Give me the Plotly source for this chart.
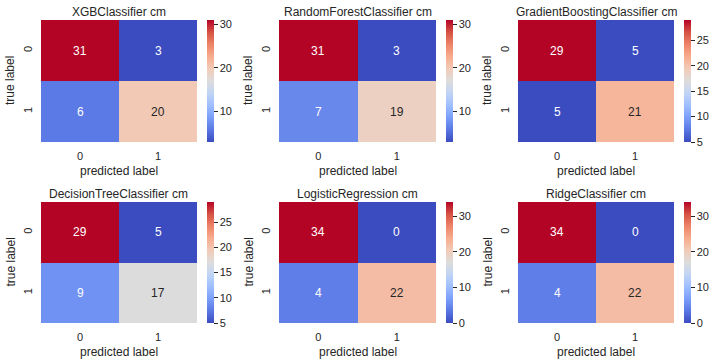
import plotly.graph_objects as go

# ---- data ----
models = ["XGBClassifier", "RandomForestClassifier", "GradientBoostingClassifier",
          "DecisionTreeClassifier", "LogisticRegression", "RidgeClassifier"]
cm_xgb = [[31, 3], [6, 20]]
cm_rf = [[31, 3], [7, 19]]
cm_gb = [[29, 5], [5, 21]]
cm_dt = [[29, 5], [9, 17]]
cm_lr = [[34, 0], [4, 22]]
cm_ridge = [[34, 0], [4, 22]]
matrices = [cm_xgb, cm_rf, cm_gb, cm_dt, cm_lr, cm_ridge]
class_labels = ["0", "1"]
cbar_dtick = [10, 10, 5, 5, 10, 10]

# ---- style ----
W, H = 719, 364
coolwarm_hex = ["#3b4cc0", "#5977e3", "#7b9ff9", "#9ebeff", "#c0d4f5", "#dddcdc",
                "#f2cbb7", "#f7ac8e", "#ee8468", "#d65244", "#b40426"]
colorscale = [[i / 10, c] for i, c in enumerate(coolwarm_hex)]
FONT = "Liberation Sans, Arial, sans-serif"
DARK = "#262626"

col_px = [(41, 197), (279, 436), (518, 674)]
cbar_px = [207, 446, 684]
row_px = [(20, 142), (202, 323)]


def hex2rgb(h):
    return tuple(int(h[i:i + 2], 16) / 255 for i in (1, 3, 5))


def cmap(t):
    t = min(max(t, 0), 1) * 10
    i = min(int(t), 9)
    f = t - i
    a, b = hex2rgb(coolwarm_hex[i]), hex2rgb(coolwarm_hex[i + 1])
    return tuple(a[k] + (b[k] - a[k]) * f for k in range(3))


def lum(rgb):
    lin = [c / 12.92 if c <= 0.03928 else ((c + 0.055) / 1.055) ** 2.4 for c in rgb]
    return 0.2126 * lin[0] + 0.7152 * lin[1] + 0.0722 * lin[2]


def px_x(p):
    return p / W


def px_y(p):
    return 1 - p / H


fig = go.Figure()
annotations = []
layout_axes = {}

for k, (name, z) in enumerate(zip(models, matrices)):
    r, c = divmod(k, 3)
    x0, x1 = col_px[c]
    y0, y1 = row_px[r]
    xa = "x" if k == 0 else f"x{k + 1}"
    ya = "y" if k == 0 else f"y{k + 1}"
    xkey = "xaxis" if k == 0 else f"xaxis{k + 1}"
    ykey = "yaxis" if k == 0 else f"yaxis{k + 1}"
    flat = [v for row in z for v in row]
    zmin, zmax = min(flat), max(flat)

    fig.add_trace(go.Heatmap(
        z=z, x=[0, 1], y=[0, 1], xaxis=xa, yaxis=ya,
        colorscale=colorscale, zmin=zmin, zmax=zmax,
        hoverinfo="skip",
        colorbar=dict(
            x=px_x(cbar_px[c]), xanchor="left", xref="paper",
            y=px_y(y1), yanchor="bottom", yref="paper",
            len=(y1 - y0) / H, lenmode="fraction",
            thickness=7, thicknessmode="pixels",
            xpad=0, ypad=0, outlinewidth=0,
            ticks="outside", ticklen=4, tickwidth=1, tickcolor=DARK,
            tick0=0, dtick=cbar_dtick[k],
            tickfont=dict(family=FONT, size=11, color=DARK),
        ),
    ))

    layout_axes[xkey] = dict(
        domain=[px_x(x0), px_x(x1)], anchor=ya, range=[-0.5, 1.5],
        tickvals=[0, 1], ticktext=class_labels, showgrid=False, zeroline=False,
        showline=False, ticks="", ticklabelstandoff=6,
        tickfont=dict(family=FONT, size=11, color=DARK), fixedrange=True,
    )
    layout_axes[ykey] = dict(
        domain=[px_y(y1), px_y(y0)], anchor=xa, range=[1.5, -0.5],
        tickvals=[0, 1], ticktext=class_labels, showgrid=False, zeroline=False,
        showline=False, ticks="", tickangle=-90, ticklabelstandoff=6,
        tickfont=dict(family=FONT, size=11, color=DARK), fixedrange=True,
    )

    # cell annotations
    for i, row in enumerate(z):
        for j, v in enumerate(row):
            t = (v - zmin) / (zmax - zmin) if zmax > zmin else 0
            color = DARK if lum(cmap(t)) > 0.408 else "white"
            annotations.append(dict(
                x=j, y=i, xref=xa, yref=ya, text=str(v), showarrow=False,
                font=dict(family=FONT, size=12, color=color),
            ))

    cx = px_x((x0 + x1) / 2)
    annotations.append(dict(
        x=cx, y=px_y(y0 - 8.5), xref="paper", yref="paper", text=f"{name} cm",
        showarrow=False, yanchor="middle", xanchor="center",
        font=dict(family=FONT, size=12, color=DARK),
    ))
    annotations.append(dict(
        x=cx, y=px_y(y1 + 28.5), xref="paper", yref="paper", text="predicted label",
        showarrow=False, yanchor="middle", xanchor="center",
        font=dict(family=FONT, size=12, color=DARK),
    ))
    annotations.append(dict(
        x=px_x(x0 - 31), y=px_y((y0 + y1) / 2), xref="paper", yref="paper",
        text="true label", textangle=-90,
        showarrow=False, yanchor="middle", xanchor="center",
        font=dict(family=FONT, size=12, color=DARK),
    ))

fig.update_layout(
    width=W, height=H, margin=dict(l=0, r=0, t=0, b=0),
    paper_bgcolor="white", plot_bgcolor="white",
    annotations=annotations, showlegend=False,
    **layout_axes,
)

fig.write_html("out.html", config={"displayModeBar": False},
               post_script="document.body.style.margin='0';")
